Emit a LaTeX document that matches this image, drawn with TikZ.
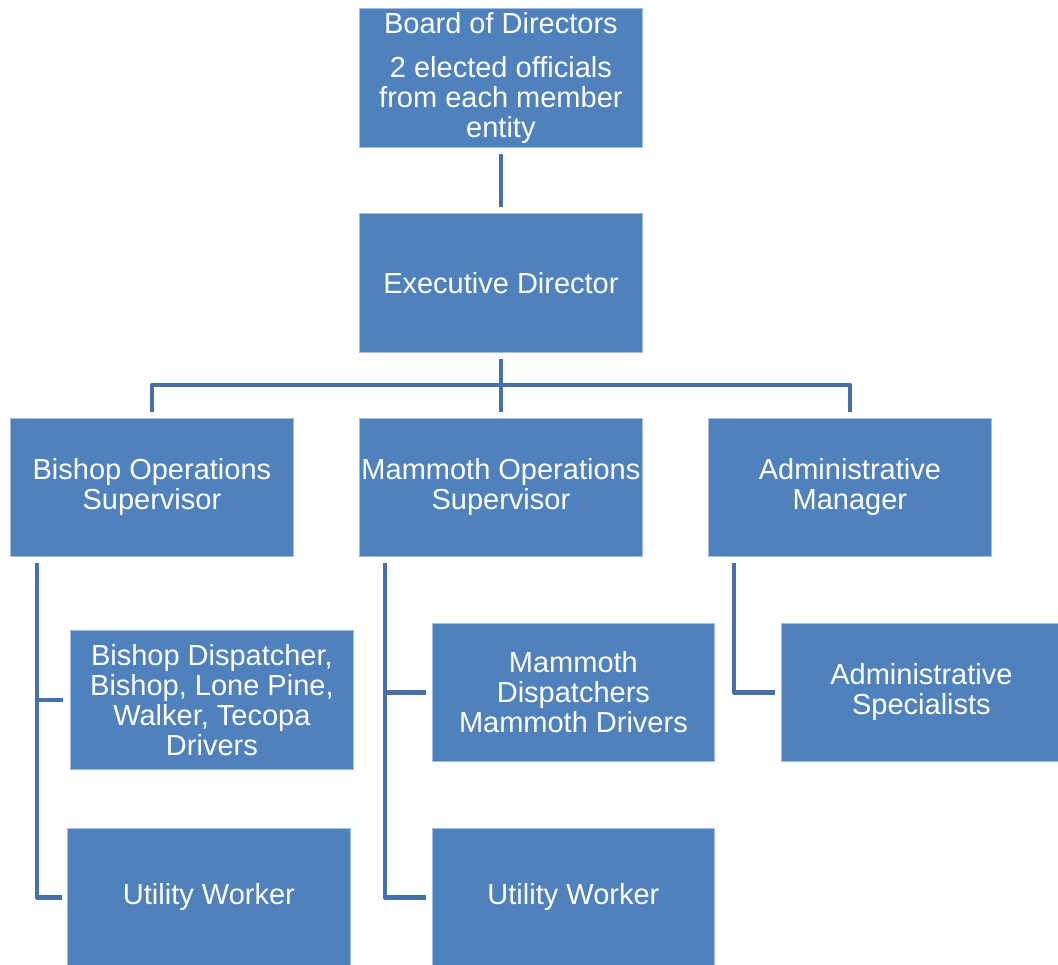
\documentclass[tikz,border=0pt]{standalone}
\usepackage{fontspec}
\setmainfont{Liberation Sans}
\definecolor{boxfill}{HTML}{4F81BD}
\definecolor{boxedge}{HTML}{A3BCDF}
\definecolor{conncol}{HTML}{4770A8}
\tikzset{
  orgbox/.style={rectangle, anchor=north west, fill=boxfill, draw=boxedge, line width=0.8pt,
    inner sep=0pt, text=white, align=center,
    font=\fontsize{29}{30}\selectfont},
  conn/.style={draw=conncol, line width=4.5pt, line join=round}
}
\begin{document}
\begin{tikzpicture}[x=1pt,y=-1pt]
\useasboundingbox (0,0) rectangle (1058,965);
\clip (0,0) rectangle (1058,965);
\node[orgbox, minimum width=283pt, minimum height=139pt] (board) at (359,8)
  {Board of Directors\\[14pt]2 elected officials\\from each member\\entity};
\node[orgbox, minimum width=283pt, minimum height=139pt] (exec) at (359,213) {Executive Director};
\node[orgbox, minimum width=283pt, minimum height=138pt] (bops) at (10,418) {Bishop Operations\\Supervisor};
\node[orgbox, minimum width=283pt, minimum height=138pt] (mops) at (359,418) {Mammoth Operations\\Supervisor};
\node[orgbox, minimum width=283pt, minimum height=138pt] (amgr) at (708,418) {Administrative\\Manager};
\node[orgbox, minimum width=283pt, minimum height=139pt] (bdisp) at (70,630) {Bishop Dispatcher,\\Bishop, Lone Pine,\\Walker, Tecopa\\Drivers};
\node[orgbox, minimum width=283pt, minimum height=138pt] (butil) at (67,828) {Utility Worker};
\node[orgbox, minimum width=282pt, minimum height=138pt] (mdisp) at (432,623) {Mammoth\\Dispatchers\\Mammoth Drivers};
\node[orgbox, minimum width=282pt, minimum height=138pt] (mutil) at (432,828) {Utility Worker};
\node[orgbox, minimum width=280pt, minimum height=138pt] (aspec) at (781,623) {Administrative\\Specialists};
% connectors
\draw[conn] ([yshift=-6pt]board.south) -- ([yshift=6pt]exec.north);
\draw[conn] ([yshift=-6pt]exec.south) -- ([yshift=6pt]mops.north);
\draw[conn] ([yshift=6pt]bops.north) -- (bops.north |- 0,385) -- (amgr.north |- 0,385) -- ([yshift=6pt]amgr.north);
\draw[conn] ([shift={(27pt,-6pt)}]bops.south west) |- ([xshift=-7pt]bdisp.west);
\draw[conn] ([shift={(27pt,-6pt)}]bops.south west) |- ([xshift=-5pt]butil.west);
\draw[conn] ([shift={(26pt,-6pt)}]mops.south west) |- ([xshift=-6pt]mdisp.west);
\draw[conn] ([shift={(26pt,-6pt)}]mops.south west) |- ([xshift=-6pt]mutil.west);
\draw[conn] ([shift={(26pt,-6pt)}]amgr.south west) |- ([xshift=-6pt]aspec.west);
\end{tikzpicture}
\end{document}
